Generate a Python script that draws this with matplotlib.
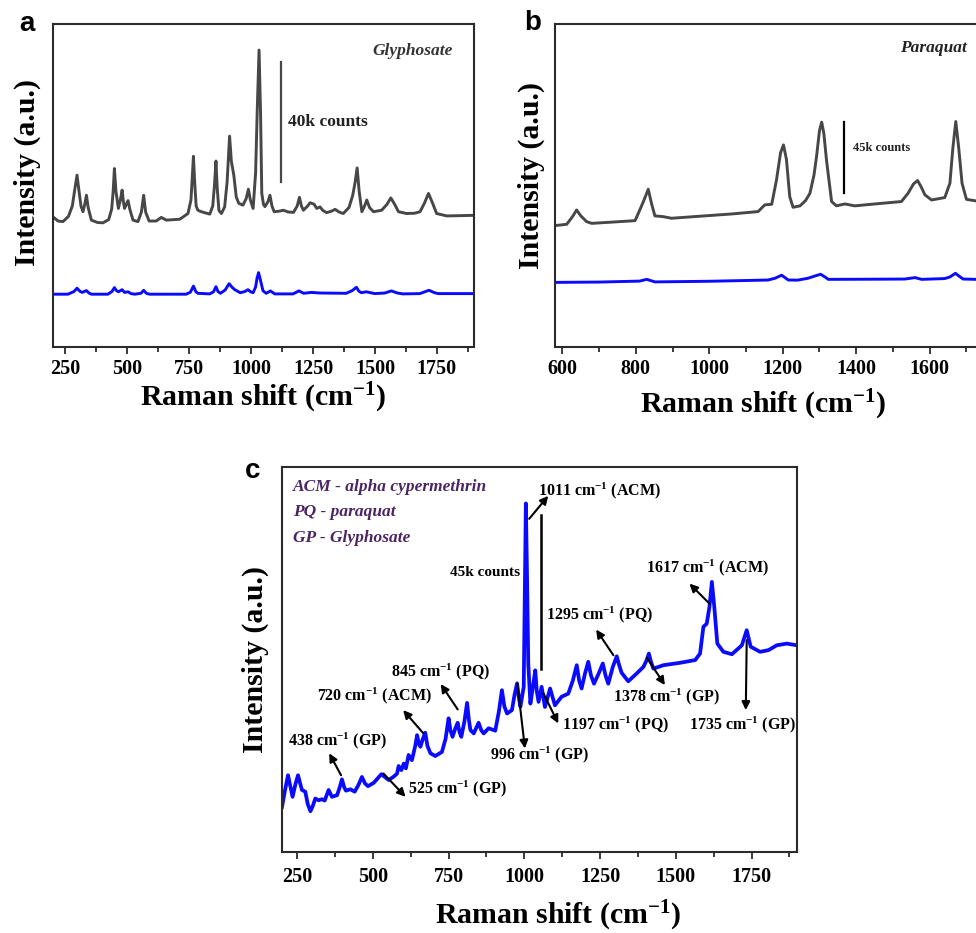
import matplotlib
matplotlib.use("Agg")
import matplotlib.pyplot as plt
from matplotlib.ticker import FixedLocator

plt.rcParams["font.family"] = "Liberation Serif"
plt.rcParams["font.weight"] = "bold"
plt.rcParams["axes.labelweight"] = "bold"
plt.rcParams["mathtext.fontset"] = "custom"
plt.rcParams["mathtext.rm"] = "Liberation Serif:bold"
plt.rcParams["mathtext.it"] = "Liberation Serif:italic:bold"
plt.rcParams["mathtext.bf"] = "Liberation Serif:bold"
plt.rcParams["mathtext.default"] = "rm"

# -------------------------
# datos (intensidad en k counts, desplazamiento en cm-1)
# -------------------------
# a) glifosato: polvo (gris) y sobre la muestra (azul)
gly_x = [200, 220, 240, 262, 278, 287, 297, 305, 313, 321, 328, 335, 342, 355, 380, 402,
         425, 437, 443, 448, 454, 464, 472, 479, 485, 489, 497, 503, 510, 523, 543, 557,
         566, 574, 588, 617, 637, 658, 712, 745, 757, 762, 767, 772, 778, 785, 799, 833,
         845, 852, 858, 863, 870, 880, 893, 903, 913, 920, 930, 940, 950, 967, 980, 989,
         997, 1008, 1018, 1025, 1032, 1038, 1043, 1050, 1056, 1068, 1076, 1084, 1093, 1115,
         1130, 1150, 1171, 1186, 1195, 1203, 1211, 1228, 1238, 1254, 1265, 1278, 1290, 1305,
         1325, 1339, 1355, 1372, 1395, 1410, 1420, 1428, 1436, 1447, 1458, 1467, 1478, 1494,
         1527, 1548, 1564, 1580, 1595, 1628, 1660, 1682, 1700, 1716, 1730, 1749, 1790, 1850,
         1900]
gly_y = [43.4, 42.0, 41.8, 43.5, 47.0, 52.0, 57.3, 52.0, 47.0, 45.1, 47.5, 50.6, 46.5, 42.3,
         41.5, 41.4, 42.5, 46.0, 52.0, 59.5, 52.0, 46.2, 49.0, 52.3, 48.0, 46.2, 47.8, 48.8,
         46.0, 42.3, 41.8, 45.0, 50.6, 45.0, 42.0, 42.0, 43.2, 42.3, 42.6, 44.5, 49.0, 56.0,
         63.6, 55.0, 47.0, 45.6, 45.1, 44.3, 47.0, 54.0, 62.0, 53.0, 45.5, 44.5, 46.7, 55.0,
         70.3, 62.0, 57.3, 50.0, 47.9, 47.3, 49.5, 52.6, 49.0, 46.2, 58.0, 80.0, 99.0, 78.0,
         51.2, 47.5, 46.8, 48.5, 50.6, 47.0, 45.1, 45.3, 45.6, 45.0, 44.9, 47.0, 49.9, 47.0,
         45.6, 47.0, 48.1, 47.6, 46.2, 46.7, 45.5, 44.8, 45.3, 45.9, 45.0, 44.5, 46.5, 50.5,
         55.0, 59.7, 52.0, 45.1, 47.0, 49.0, 46.5, 45.1, 45.6, 47.5, 49.7, 47.5, 45.1, 44.5,
         44.6, 45.1, 48.0, 51.2, 48.5, 44.5, 43.7, 43.8, 43.9]

gly_blue_x = [200, 260, 285, 297, 308, 318, 335, 345, 355, 422, 438, 448, 456, 464, 479, 489,
              503, 515, 530, 555, 566, 577, 590, 738, 755, 767, 777, 785, 833, 848, 858, 866,
              876, 895, 911, 922, 934, 956, 975, 987, 998, 1008, 1018, 1024, 1030, 1037, 1048,
              1061, 1078, 1095, 1169, 1193, 1212, 1243, 1277, 1384, 1408, 1425, 1435, 1445,
              1465, 1499, 1540, 1566, 1590, 1613, 1681, 1718, 1740, 1755, 1900]
gly_blue_y = [17.6, 17.6, 18.5, 19.6, 18.6, 18.2, 18.8, 18.0, 17.6, 17.6, 18.5, 19.8, 18.8,
              18.4, 19.1, 18.2, 18.4, 17.8, 17.6, 17.9, 18.9, 17.9, 17.6, 17.6, 18.3, 20.3,
              18.4, 17.9, 17.7, 18.4, 20.1, 18.5, 17.9, 19.0, 21.1, 20.0, 19.1, 18.1, 18.5,
              19.1, 18.4, 18.1, 20.0, 23.0, 24.8, 22.5, 18.7, 17.9, 18.7, 17.7, 17.7, 18.7,
              17.9, 18.2, 18.0, 17.9, 18.8, 19.9, 18.6, 18.1, 18.4, 17.8, 18.0, 18.7, 18.0,
              17.7, 17.8, 18.9, 18.1, 17.8, 17.8]

# b) paraquat
pq_x = [580, 612, 628, 639, 650, 666, 680, 730, 798, 807, 820, 834, 843, 852, 875, 897, 988,
        1061, 1133, 1151, 1170, 1183, 1194, 1202, 1210, 1219, 1228, 1247, 1262, 1274, 1285,
        1292, 1300, 1306, 1312, 1319, 1333, 1346, 1369, 1396, 1451, 1523, 1541, 1556, 1567,
        1577, 1587, 1605, 1641, 1655, 1663, 1671, 1679, 1688, 1700, 1726, 1800]
pq_y = [76.3, 77.1, 82.0, 86.1, 82.5, 78.8, 77.7, 78.4, 79.4, 84.0, 91.0, 99.1, 90.0, 82.4,
        81.9, 80.9, 82.4, 83.6, 85.1, 89.3, 89.7, 105.0, 122.0, 127.0, 118.0, 94.5, 87.8,
        88.7, 92.0, 96.6, 108.0, 119.7, 136.0, 141.3, 134.0, 117.6, 91.4, 88.7, 89.9, 88.7,
        89.9, 91.4, 96.6, 102.5, 104.6, 100.5, 95.6, 92.4, 93.9, 102.9, 125.0, 141.7, 125.0,
        102.9, 92.8, 91.8, 91.5]

pq_blue_x = [580, 700, 810, 830, 852, 1000, 1124, 1160, 1179, 1197, 1215, 1240, 1269, 1290,
             1303, 1315, 1324, 1450, 1532, 1560, 1578, 1641, 1655, 1670, 1680, 1691, 1726, 1800]
pq_blue_y = [40.6, 40.8, 41.4, 42.5, 40.9, 41.3, 41.9, 42.1, 43.2, 45.1, 42.1, 42.0, 43.2,
             44.8, 45.7, 44.0, 42.5, 42.6, 42.7, 43.6, 42.5, 43.0, 44.0, 46.3, 44.5, 42.7,
             42.5, 42.5]

# c) mezcla ACM + PQ + GP
mix_x = [200, 210, 220, 228, 235, 245, 253, 260, 266, 277, 285, 294, 302, 310, 321, 332, 341,
         354, 365, 382, 391, 398, 405, 411, 426, 440, 452, 464, 474, 484, 503, 528, 552, 569,
         580, 585, 594, 602, 609, 618, 629, 640, 646, 652, 657, 665, 673, 680, 690, 706, 728,
         740, 750, 756, 763, 772, 780, 786, 792, 802, 811, 817, 822, 833, 849, 858, 866, 882,
         904, 916, 926, 934, 943, 959, 968, 976, 982, 987, 998, 1001, 1005, 1009, 1013, 1020,
         1028, 1036, 1041, 1047, 1057, 1068, 1085, 1101, 1123, 1145, 1160, 1173, 1181, 1189,
         1200, 1211, 1220, 1230, 1245, 1259, 1268, 1277, 1292, 1305, 1313, 1321, 1343, 1371,
         1393, 1404, 1411, 1418, 1426, 1459, 1514, 1564, 1580, 1591, 1602, 1611, 1619, 1627,
         1637, 1657, 1685, 1718, 1734, 1747, 1778, 1806, 1833, 1866, 1900]
mix_y = [13.1, 18.0, 22.4, 19.0, 16.1, 20.0, 22.4, 20.0, 18.1, 17.6, 14.0, 11.9, 13.5, 15.6,
         15.1, 15.4, 15.0, 18.1, 16.1, 16.6, 19.0, 21.2, 19.0, 17.9, 18.3, 17.6, 19.5, 21.9,
         20.0, 19.2, 20.2, 22.7, 21.0, 22.0, 22.9, 25.1, 23.9, 25.8, 24.4, 28.3, 26.8, 31.0,
         34.1, 31.5, 30.7, 33.0, 34.8, 31.0, 28.8, 28.0, 29.2, 33.0, 39.0, 35.5, 33.6, 36.0,
         37.7, 35.0, 33.6, 38.0, 43.5, 38.5, 35.6, 34.6, 37.7, 35.5, 34.6, 36.1, 35.4, 41.0,
         47.2, 42.5, 40.4, 41.4, 46.0, 49.2, 45.0, 42.4, 48.2, 70.0, 101.7, 80.0, 55.0, 43.3,
         48.0, 53.0, 47.0, 43.8, 48.2, 42.3, 47.7, 42.8, 45.3, 46.2, 50.0, 54.5, 50.0, 47.7,
         52.0, 55.5, 51.5, 49.1, 52.0, 55.0, 51.5, 49.1, 54.0, 57.1, 54.5, 52.3, 49.8, 52.1,
         54.0, 56.0, 57.9, 55.5, 53.5, 54.5, 55.2, 56.0, 57.9, 65.7, 66.6, 71.5, 78.8, 71.5,
         60.8, 58.4, 57.7, 60.3, 64.7, 59.9, 58.4, 58.9, 60.3, 60.8, 60.3]

# etiquetas de picos en c): texto, centro del texto, cola y punta de la flecha
c_labels = ["1011 cm$^{-1}$ (ACM)", "1617 cm$^{-1}$ (ACM)", "1295 cm$^{-1}$ (PQ)",
            "1378 cm$^{-1}$ (GP)", "1735 cm$^{-1}$ (GP)", "1197 cm$^{-1}$ (PQ)",
            "996 cm$^{-1}$ (GP)", "845 cm$^{-1}$ (PQ)", "720 cm$^{-1}$ (ACM)",
            "438 cm$^{-1}$ (GP)", "525 cm$^{-1}$ (GP)"]
c_text_xy = [(1247, 105.5), (1606, 82.8), (1247, 69.2), (1468, 45.4), (1719, 37.1),
             (1300, 37.1), (1049, 28.4), (725, 52.7), (504, 45.7), (382, 32.5), (781, 18.4)]
c_arrow_from = [(1016, 97.2), (1613, 72.3), (1294, 57.4), (1404, 56.7), (1734, 61.8),
                (1063, 46.3), (977, 49.2), (780, 41.6), (667, 34.6), (395, 22.4), (535, 22.9)]
c_arrow_to = [(1079, 103.9), (1545, 78.3), (1237, 64.9), (1464, 48.7), (1731, 41.4),
              (1112, 37.5), (1002, 30.2), (724, 49.0), (600, 41.4), (356, 28.8), (608, 16.1)]

c_legend = ["ACM - alpha cypermethrin", "PQ - paraquat", "GP - Glyphosate"]

ticks_250 = [250, 500, 750, 1000, 1250, 1500, 1750]
minor_250 = [375, 625, 875, 1125, 1375, 1625, 1875]
ticks_b = [600, 800, 1000, 1200, 1400, 1600]
minor_b = [700, 900, 1100, 1300, 1500, 1700]

xlabel = "Raman shift (cm$^{-1}$)"
ylabel = "Intensity (a.u.)"

GRIS = "#474747"
AZUL = "#0a0aff"
SPINE = "#2b2b2b"

fig = plt.figure(figsize=(9.76, 9.33), dpi=100)


def estilo(ax, xlim, ylim, major, minor):
    ax.set_xlim(*xlim)
    ax.set_ylim(*ylim)
    ax.xaxis.set_major_locator(FixedLocator(major))
    ax.xaxis.set_minor_locator(FixedLocator(minor))
    ax.set_yticks([])
    ax.tick_params(axis="x", which="both", direction="out", width=1.3, color=SPINE,
                   labelsize=14.5, pad=4)
    ax.tick_params(axis="x", which="major", length=5)
    ax.tick_params(axis="x", which="minor", length=3.5)
    for s in ax.spines.values():
        s.set_linewidth(1.5)
        s.set_color(SPINE)


# -------------------------
# a) Glyphosate
# -------------------------
ax1 = fig.add_axes([0.0543, 0.6281, 0.4314, 0.3462])
ax1.plot(gly_x, gly_y, color=GRIS, lw=2.1)
ax1.plot(gly_blue_x, gly_blue_y, color=AZUL, lw=2.1)
estilo(ax1, (200, 1900), (0, 107.7), ticks_250, minor_250)
ax1.plot([1119, 1119], [55, 95], color=GRIS, lw=1.6)
ax1.text(1150, 75.1, "40k counts", fontsize=12.5, va="center", color="#222222")
ax1.text(1815, 98.8, "Glyphosate", fontsize=12.5, style="italic", ha="right", va="center",
         color="#333333")
ax1.set_xlabel(xlabel, fontsize=21.5, va="center")
ax1.xaxis.set_label_coords(0.5, -0.158)
ax1.set_ylabel(ylabel, fontsize=21.5, va="center")
ax1.yaxis.set_label_coords(-0.062, 0.54)
fig.text(27 / 976, 1 - 24 / 933, "a", family="Liberation Sans", fontsize=20,
         weight="bold", ha="center", va="center")

# -------------------------
# b) Paraquat
# -------------------------
ax2 = fig.add_axes([0.5686, 0.6281, 0.4969, 0.3462])
ax2.plot(pq_x, pq_y, color=GRIS, lw=2.1)
ax2.plot(pq_blue_x, pq_blue_y, color=AZUL, lw=2.1)
estilo(ax2, (580, 1900), (0, 203), ticks_b, minor_b)
ax2.plot([1367, 1367], [96.7, 141.7], color="black", lw=1.6)
ax2.text(1390, 125.3, "45k counts", fontsize=9, va="center", color="#222222")
ax2.text(1519, 188, "Paraquat", fontsize=12.5, style="italic", ha="left", va="center",
         color="#222222")
ax2.set_xlabel(xlabel, fontsize=21.5, va="center")
ax2.xaxis.set_label_coords(0.429, -0.18)
ax2.set_ylabel(ylabel, fontsize=21.5, va="center")
ax2.yaxis.set_label_coords(-0.049, 0.53)
fig.text(533 / 976, 1 - 23 / 933, "b", family="Liberation Sans", fontsize=20,
         weight="bold", ha="center", va="center")

# -------------------------
# c) Mezcla
# -------------------------
ax3 = fig.add_axes([0.2889, 0.0868, 0.5277, 0.4126])
ax3.plot(mix_x, mix_y, color=AZUL, lw=2.7)
estilo(ax3, (200, 1900), (0, 112.3), ticks_250, minor_250)
ax3.tick_params(axis="x", pad=6)
ax3.plot([1055, 1055], [53.4, 98.4], color="black", lw=1.8)
ax3.text(986, 81.5, "45k counts", fontsize=11, ha="right", va="center")

for lab, txy, a0, a1 in zip(c_labels, c_text_xy, c_arrow_from, c_arrow_to):
    ax3.annotate("", xy=a1, xytext=a0,
                 arrowprops=dict(arrowstyle="-|>", color="black", lw=1.5,
                                 mutation_scale=12, shrinkA=0, shrinkB=0))
    ax3.text(txy[0], txy[1], lab, fontsize=11.5, ha="center", va="center")

for i, t in enumerate(c_legend):
    ax3.text(0.021, 0.947 - 0.065 * i, t, transform=ax3.transAxes, fontsize=12.5,
             style="italic", color="#4b2463", va="center")

ax3.set_xlabel(xlabel, fontsize=21.5, va="center")
ax3.xaxis.set_label_coords(0.536, -0.166)
ax3.set_ylabel(ylabel, fontsize=21.5, va="center")
ax3.yaxis.set_label_coords(-0.052, 0.5)
fig.text(253 / 976, 1 - 471 / 933, "c", family="Liberation Sans", fontsize=20,
         weight="bold", ha="center", va="center")

fig.savefig("out.png", dpi=100)
